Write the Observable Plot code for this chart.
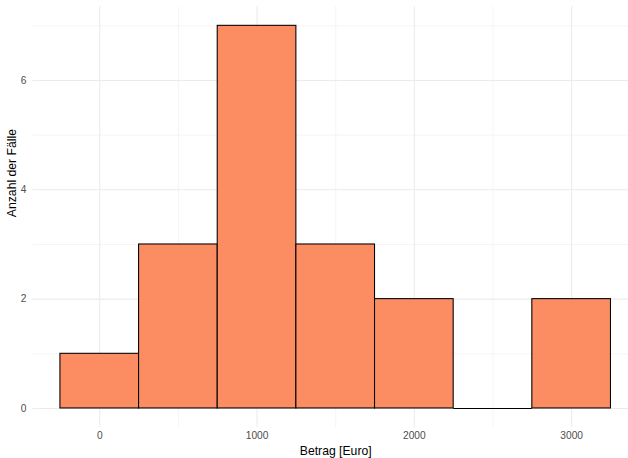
<!DOCTYPE html>
<html>
<head>
<meta charset="utf-8">
<script src="https://cdn.jsdelivr.net/npm/d3@7"></script>
<script src="https://cdn.jsdelivr.net/npm/@observablehq/plot@0.6"></script>
<style>
  html, body { margin: 0; padding: 0; background: #fff; overflow: hidden; }
</style>
</head>
<body>
<div id="chart"></div>
<script>
// Histogram bins (Betrag in Euro), bin width 500
const binCenters = [0, 500, 1000, 1500, 2000, 2500, 3000];
const counts = [1, 3, 7, 3, 2, 0, 2];
const binWidth = 500;

// Axis ticks / grid
const xMajor = [0, 1000, 2000, 3000];
const xMinor = [500, 1500, 2500];
const yMajor = [0, 2, 4, 6];
const yMinor = [1, 3, 5, 7];

const xTitle = "Betrag [Euro]";
const yTitle = "Anzahl der Fälle";

const bins = binCenters.map((c, i) => ({x1: c - binWidth / 2, x2: c + binWidth / 2, count: counts[i]}));
const filled = bins.filter(d => d.count > 0);
const empty = bins.filter(d => d.count === 0);

const font = "'Liberation Sans', Arial, Helvetica, sans-serif";

const chart = Plot.plot({
  width: 628,
  height: 458,
  marginLeft: 32.4,
  marginRight: -10,
  marginTop: 6.2,
  marginBottom: 30.9,
  style: {fontFamily: font, fontSize: "10.2px", color: "#4D4D4D", background: "#fff", overflow: "hidden"},
  x: {domain: [-425, 3425]},
  y: {domain: [-0.35, 7.35]},
  marks: [
    Plot.ruleX(xMinor, {stroke: "#EBEBEB", strokeWidth: 0.55, strokeOpacity: 1}),
    Plot.ruleY(yMinor, {stroke: "#EBEBEB", strokeWidth: 0.55, strokeOpacity: 1}),
    Plot.ruleX(xMajor, {stroke: "#EBEBEB", strokeWidth: 1.07, strokeOpacity: 1}),
    Plot.ruleY(yMajor, {stroke: "#EBEBEB", strokeWidth: 1.07, strokeOpacity: 1}),
    Plot.rect(filled, {x1: "x1", x2: "x2", y1: 0, y2: "count", fill: "#FC8D62", stroke: "#000", strokeWidth: 1.07}),
    Plot.ruleY(empty, {x1: "x1", x2: "x2", y: "count", stroke: "#000", strokeWidth: 1.07}),
    Plot.axisX(xMajor, {tickSize: 0, tickPadding: 4, label: null, tickFormat: d => String(d), fill: "#4D4D4D", fontSize: 10.2}),
    Plot.axisY(yMajor, {tickSize: 0, tickPadding: 6.5, label: null, tickFormat: d => String(d), fill: "#4D4D4D", fontSize: 10.2}),
    Plot.text([xTitle], {frameAnchor: "bottom", dy: 23, text: d => d, fill: "#000", fontSize: 12.2, lineAnchor: "middle"}),
    Plot.text([yTitle], {frameAnchor: "left", dx: -20.5, rotate: -90, text: d => d, fill: "#000", fontSize: 12.2, lineAnchor: "middle"})
  ]
});
document.getElementById("chart").appendChild(chart);
</script>
</body>
</html>
